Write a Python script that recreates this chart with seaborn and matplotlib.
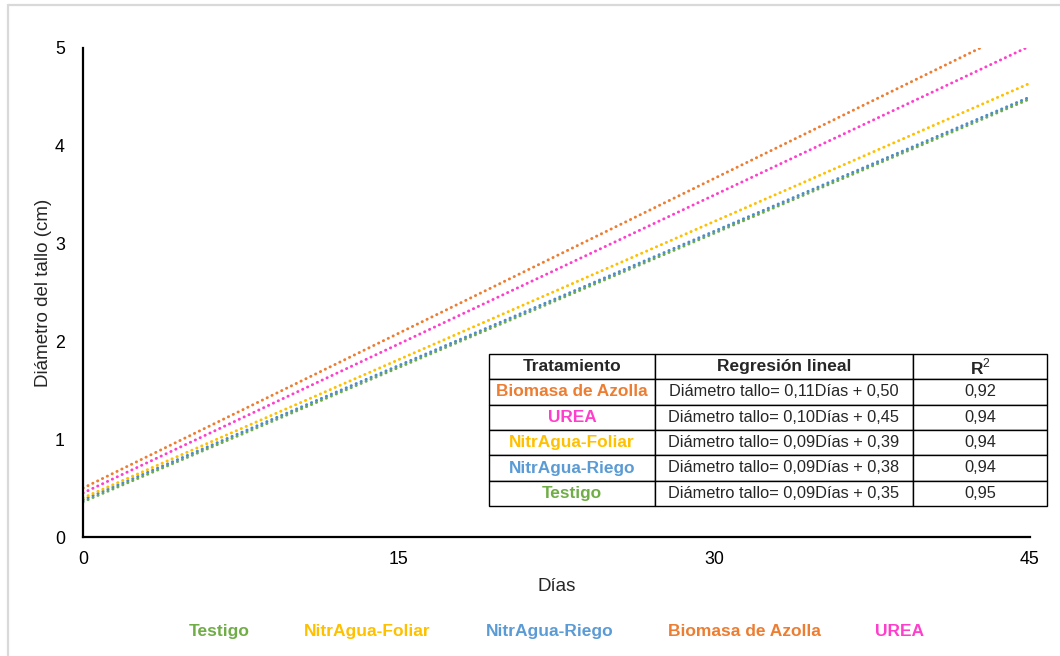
import matplotlib
matplotlib.use("Agg")
import matplotlib.pyplot as plt
from matplotlib.lines import Line2D
import pandas as pd
import seaborn as sns

# Fitted trend lines: diameter at the first and last day of the trial
dias = [0, 45]
tratamientos = ["Testigo", "NitrAgua-Riego", "NitrAgua-Foliar", "UREA", "Biomasa de Azolla"]
diametro_dia0 = [0.36, 0.38, 0.40, 0.45, 0.50]
diametro_dia45 = [4.48, 4.50, 4.64, 5.02, 5.25]

colores = {
    "Testigo": "#70AD47",
    "NitrAgua-Foliar": "#FFC000",
    "NitrAgua-Riego": "#4F8CCB",
    "Biomasa de Azolla": "#ED7D31",
    "UREA": "#FF3FCC",
}
colores_texto = dict(colores, **{"NitrAgua-Riego": "#5B9BD5"})

orden_leyenda = ["Testigo", "NitrAgua-Foliar", "NitrAgua-Riego", "Biomasa de Azolla", "UREA"]

# Summary table of the regressions
tabla_tratamiento = ["Biomasa de Azolla", "UREA", "NitrAgua-Foliar", "NitrAgua-Riego", "Testigo"]
tabla_ecuacion = [
    "Diámetro tallo= 0,11Días + 0,50",
    "Diámetro tallo= 0,10Días + 0,45",
    "Diámetro tallo= 0,09Días + 0,39",
    "Diámetro tallo= 0,09Días + 0,38",
    "Diámetro tallo= 0,09Días + 0,35",
]
tabla_r2 = ["0,92", "0,94", "0,94", "0,94", "0,95"]
encabezados = ["Tratamiento", "Regresión lineal", "R$^{2}$"]

x_ticks = [0, 15, 30, 45]
y_ticks = [0, 1, 2, 3, 4, 5]

sns.set_style("white")
plt.rcParams["font.family"] = ["Liberation Sans", "DejaVu Sans"]
plt.rcParams["mathtext.fontset"] = "custom"
plt.rcParams["mathtext.rm"] = "Liberation Sans"
plt.rcParams["mathtext.bf"] = "Liberation Sans:bold"

rows = []
for t, y0, y1 in zip(tratamientos, diametro_dia0, diametro_dia45):
    rows.append({"Días": dias[0], "Diámetro": y0, "Tratamiento": t})
    rows.append({"Días": dias[1], "Diámetro": y1, "Tratamiento": t})
df = pd.DataFrame(rows)

fig = plt.figure(figsize=(10.6, 6.56), dpi=100)
ax = fig.add_axes([83 / 1060, 1 - 537 / 656, 947 / 1060, 489 / 656])

for t in tratamientos:
    line_ax = sns.lineplot(
        data=df[df["Tratamiento"] == t], x="Días", y="Diámetro",
        color=colores[t], linewidth=2.1, ax=ax, legend=False,
    )
    ln = line_ax.lines[-1]
    ln.set_linestyle((0, (0.1, 1.75)))
    ln.set_dash_capstyle("round")

ax.set_xlim(0, 45)
ax.set_ylim(0, 5)
ax.set_xticks(x_ticks)
ax.set_yticks(y_ticks)
ax.tick_params(axis="both", length=0, labelsize=12.8, colors="#000000")
ax.tick_params(axis="x", pad=10)
ax.tick_params(axis="y", pad=13)
ax.set_xlabel("Días", fontsize=13.5, labelpad=7)
ax.set_ylabel("Diámetro del tallo (cm)", fontsize=13.5, labelpad=2)
for side in ["top", "right"]:
    ax.spines[side].set_visible(False)
for side in ["left", "bottom"]:
    ax.spines[side].set_color("black")
    ax.spines[side].set_linewidth(1.6)

# Regression table
cell_text = [[a, b, c] for a, b, c in zip(tabla_tratamiento, tabla_ecuacion, tabla_r2)]
tbl = ax.table(
    cellText=cell_text, colLabels=encabezados, cellLoc="center",
    colWidths=[166, 258, 134],
    bbox=[(489 - 83) / 947, (537 - 506) / 489, 558 / 947, 152 / 489],
)
tbl.auto_set_font_size(False)
for (r, c), cell in tbl.get_celld().items():
    cell.set_edgecolor("black")
    cell.set_linewidth(1.0)
    cell.set_facecolor("white")
    txt = cell.get_text()
    if r == 0:
        txt.set_fontsize(12.5)
        txt.set_fontweight("bold")
    elif c == 0:
        txt.set_fontsize(12.4)
        txt.set_fontweight("bold")
        txt.set_color(colores_texto[tabla_tratamiento[r - 1]])
    else:
        txt.set_fontsize(11.8)

# Text-only legend below the plot
handles = [Line2D([], [], linestyle="none") for _ in orden_leyenda]
leg = fig.legend(
    handles, orden_leyenda, loc="center", bbox_to_anchor=(556.5 / 1060, 1 - 631 / 656),
    ncol=5, frameon=False, handlelength=0, handletextpad=0, columnspacing=3.15,
    prop={"weight": "bold", "size": 12.5},
)
for txt, name in zip(leg.get_texts(), orden_leyenda):
    txt.set_color(colores_texto[name])

# Chart-area frame edges
fig.add_artist(Line2D([8 / 1060, 8 / 1060], [0, 1 - 5 / 656], transform=fig.transFigure,
                      color="#D9D9D9", linewidth=1.6))
fig.add_artist(Line2D([8 / 1060, 1], [1 - 5 / 656, 1 - 5 / 656], transform=fig.transFigure,
                      color="#D9D9D9", linewidth=1.6))

fig.savefig("out.png", dpi=100, facecolor="white")
